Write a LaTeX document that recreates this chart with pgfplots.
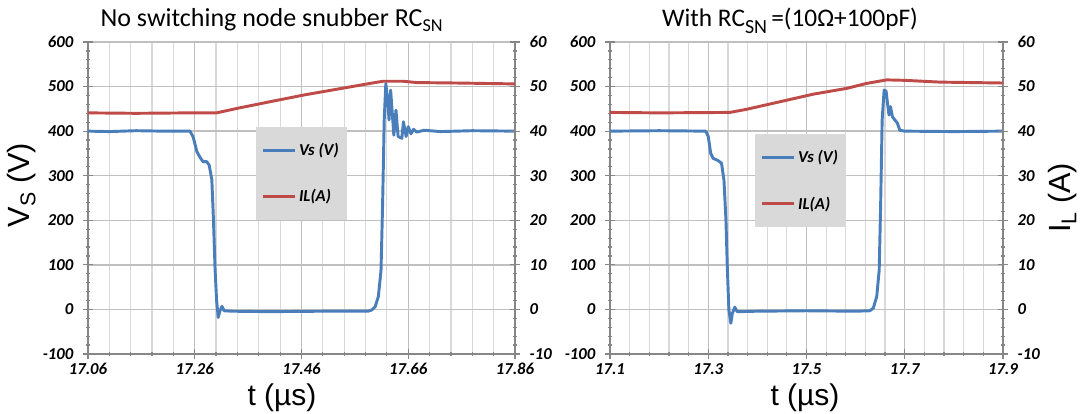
\documentclass[border=0pt]{standalone}
\usepackage{pgfplots}
\pgfplotsset{compat=1.18}
\usepackage{fontspec}
\setmainfont{Carlito}
\newfontfamily\arialfont{Liberation Sans}
\definecolor{vsblue}{HTML}{4A7EBB}
\definecolor{ilred}{HTML}{BE4B48}
\definecolor{gridmaj}{HTML}{BFBFBF}
\definecolor{gridmin}{HTML}{D9D9D9}
\definecolor{axgray}{HTML}{868686}
\definecolor{legfill}{HTML}{D9D9D9}
\pgfplotsset{
  common/.style={scale only axis, height=234pt, ymin=-100, ymax=600,
    axis line style={axgray, line width=1.1pt},
    tick style={axgray, line width=0.9pt},
    tick align=center, major tick length=7pt, minor tick length=3.5pt,
    ticklabel style={font=\fontsize{12.5}{14}\selectfont\bfseries\itshape},
    major grid style={gridmaj, line width=1.1pt},
    minor grid style={gridmin, line width=0.9pt},
  },
  legs/.style={legend style={fill=legfill, draw=none, anchor=north west,
      inner xsep=4pt, inner ysep=10pt, row sep=20pt,
      font=\fontsize{12.5}{14}\selectfont\bfseries\itshape, cells={anchor=west}},
    legend image code/.code={\draw[##1] (0pt,0pt) -- (24pt,0pt);}},
}
\begin{document}
\begin{tikzpicture}
\path[use as bounding box] (0,0) rectangle (811.5pt,310.5pt);
% ---------------- left plot ----------------
\begin{axis}[common, at={(66pt,45pt)}, anchor=south west, width=320.25pt,
  xmin=17.06, xmax=17.86, xtick={17.06,17.26,17.46,17.66,17.86},
  xticklabels={17.06,17.26,17.46,17.66,17.86}, minor x tick num=4,
  ytick={-100,0,100,200,300,400,500,600}, yticklabels={-100,0,100,200,300,400,500,600},
  yticklabel style={xshift=-4pt},
  minor y tick num=4, axis x line*=bottom, axis y line*=left,
  xmajorgrids, xminorgrids, ymajorgrids]
\addplot[vsblue, line width=2.2pt, line join=round] coordinates {
(17.06,400) (17.10,399) (17.15,401) (17.20,400) (17.251,400) (17.257,387) (17.264,354)
(17.270,341) (17.276,331) (17.282,332) (17.287,324) (17.292,291) (17.295,203) (17.298,92)
(17.301,19) (17.304,-18) (17.307,-4) (17.311,7) (17.315,-3) (17.33,-4) (17.40,-5)
(17.50,-4) (17.585,-4) (17.592,-1) (17.598,6) (17.604,29) (17.609,88) (17.612,238) (17.615,425)
(17.618,507) (17.622,462) (17.624,425) (17.627,492) (17.631,425) (17.633,391) (17.637,447)
(17.641,388) (17.648,384) (17.651,421) (17.656,388) (17.660,410) (17.665,394) (17.670,404)
(17.676,398) (17.69,402) (17.72,399) (17.78,401) (17.86,400)};
\end{axis}
\begin{axis}[common, legs, at={(66pt,45pt)}, anchor=south west, width=320.25pt,
  xmin=17.06, xmax=17.86, ymin=-10, ymax=60, hide x axis, axis y line*=right,
  ytick={-10,0,10,20,30,40,50,60}, yticklabels={-10,0,10,20,30,40,50,60},
  yticklabel style={xshift=4pt},
  minor y tick num=4, legend style={at={(0.393,0.728)}}]
\addlegendimage{vsblue, line width=2.2pt}
\addlegendentry{Vs (V)}
\addplot[ilred, line width=2.2pt, line join=round] coordinates {
(17.06,44.1) (17.15,44.0) (17.25,44.1) (17.301,44.1) (17.339,45.1) (17.401,46.6)
(17.464,48.1) (17.526,49.4) (17.588,50.7) (17.613,51.2) (17.65,51.2) (17.676,50.9)
(17.75,50.8) (17.86,50.6)};
\addlegendentry{IL(A)}
\end{axis}
% ---------------- right plot ----------------
\begin{axis}[common, at={(457.5pt,45pt)}, anchor=south west, width=294.75pt,
  xmin=17.1, xmax=17.9, xtick={17.1,17.3,17.5,17.7,17.9},
  xticklabels={17.1,17.3,17.5,17.7,17.9}, minor x tick num=4,
  ytick={-100,0,100,200,300,400,500,600}, yticklabels={-100,0,100,200,300,400,500,600},
  yticklabel style={xshift=-4pt},
  minor y tick num=4, axis x line*=bottom, axis y line*=left,
  xmajorgrids, xminorgrids, ymajorgrids]
\addplot[vsblue, line width=2.2pt, line join=round] coordinates {
(17.10,400) (17.2,401) (17.295,400) (17.300,388) (17.305,350) (17.310,339) (17.320,334)
(17.327,328) (17.332,290) (17.336,201) (17.339,88) (17.342,-1) (17.346,-31) (17.349,-9)
(17.354,5) (17.359,-5) (17.40,-4) (17.50,-3) (17.60,-4) (17.629,-3) (17.636,3) (17.643,29)
(17.648,88) (17.651,238) (17.654,425) (17.658,492) (17.662,490) (17.665,462) (17.668,436)
(17.671,455) (17.675,432) (17.680,425) (17.685,418) (17.690,402) (17.70,400) (17.8,399)
(17.9,400)};
\end{axis}
\begin{axis}[common, legs, at={(457.5pt,45pt)}, anchor=south west, width=294.75pt,
  xmin=17.1, xmax=17.9, ymin=-10, ymax=60, hide x axis, axis y line*=right,
  ytick={-10,0,10,20,30,40,50,60}, yticklabels={-10,0,10,20,30,40,50,60},
  yticklabel style={xshift=4pt},
  minor y tick num=4, legend style={at={(0.369,0.705)}}]
\addlegendimage{vsblue, line width=2.2pt}
\addlegendentry{Vs (V)}
\addplot[ilred, line width=2.2pt, line join=round] coordinates {
(17.10,44.2) (17.2,44.1) (17.344,44.2) (17.378,44.9) (17.446,46.6) (17.514,48.3)
(17.582,49.6) (17.622,50.7) (17.663,51.5) (17.70,51.4) (17.772,51.0) (17.9,50.8)};
\addlegendentry{IL(A)}
\end{axis}
% ---------------- titles and labels ----------------
\node[anchor=base, font=\fontsize{19.5}{22}\selectfont] at (204pt,290.25pt)
  {No switching node snubber RC\textsubscript{SN}};
\node[anchor=base, font=\fontsize{19}{22}\selectfont] at (592.5pt,290.25pt)
  {With RC\raisebox{-5pt}{\fontsize{15}{16}\selectfont SN}\,=(10Ω+100pF)};
\node[rotate=90, font=\arialfont\fontsize{23}{26}\selectfont] at (16.5pt,171.75pt)
  {V\raisebox{-4pt}{\fontsize{16}{18}\selectfont S} (V)};
\node[rotate=90, font=\arialfont\fontsize{23}{26}\selectfont] at (797.25pt,162pt)
  {I\raisebox{-4pt}{\fontsize{16}{18}\selectfont L} (A)};
\node[font=\arialfont\fontsize{22.5}{26}\selectfont] at (211.5pt,12pt) {t (µs)};
\node[font=\arialfont\fontsize{22.5}{26}\selectfont] at (603.75pt,12pt) {t (µs)};
\end{tikzpicture}
\end{document}
